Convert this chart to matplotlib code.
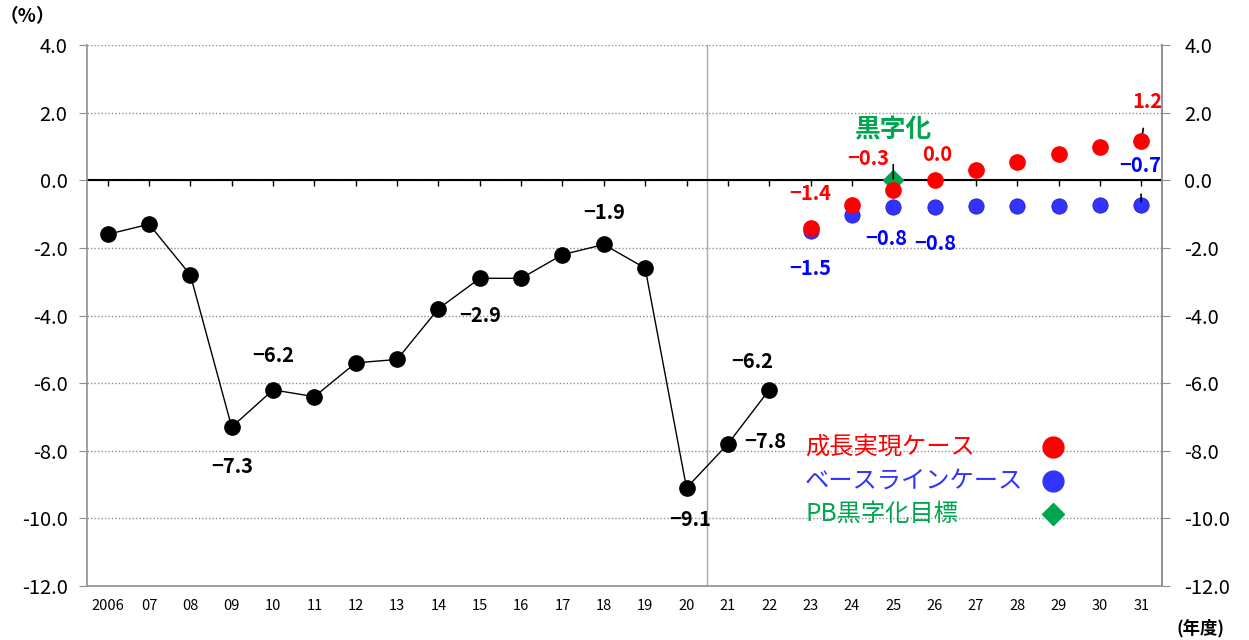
import numpy as np
import matplotlib
matplotlib.use('Agg')
import matplotlib.pyplot as plt

plt.rcParams['font.family'] = ['Noto Sans CJK JP', 'DejaVu Sans']

# 年度ラベル
years = ['2006', '07', '08', '09', '10', '11', '12', '13', '14', '15', '16', '17', '18',
         '19', '20', '21', '22', '23', '24', '25', '26', '27', '28', '29', '30', '31']

# 実績 (2006〜22)
actual = [-1.6, -1.3, -2.8, -7.3, -6.2, -6.4, -5.4, -5.3, -3.8, -2.9, -2.9, -2.2, -1.9,
          -2.6, -9.1, -7.8, -6.2]

# 試算 (23〜31)
growth = [-1.4, -0.74, -0.3, 0.02, 0.3, 0.53, 0.77, 0.98, 1.15]
baseline = [-1.5, -1.03, -0.8, -0.8, -0.77, -0.76, -0.75, -0.73, -0.72]
pb_target_year = '25'
pb_target = 0.0

legend_labels = ['成長実現ケース', 'ベースラインケース', 'PB黒字化目標']

RED = '#FF0000'
BLUE = '#0000FF'
BLUE_M = '#3333FF'
GREEN = '#00A64F'
GRAY = '#909090'


def lab(v):
    return f'{v:.1f}'.replace('-', '−')


fig = plt.figure(figsize=(12.49, 6.40), dpi=100)
ax = fig.add_axes([87 / 1249, 54 / 640, 1075 / 1249, 541 / 640])

x = np.arange(len(years))
xa = x[:len(actual)]
xf = x[len(actual):]

ax.set_xlim(-0.5, len(years) - 0.5)
ax.set_ylim(-12, 4)

# 目盛と補助線
yt = np.arange(-12, 4.1, 2)
ax.set_yticks(yt)
ax.set_yticklabels([f'{v:.1f}' for v in yt])
ax.yaxis.grid(True, linestyle=(0, (1, 1.5)), color=GRAY, linewidth=1)
ax.set_axisbelow(True)
ax.axhline(0, color='black', linewidth=1.5, zorder=2)
ax.plot(x, np.zeros(len(x)), linestyle='none', marker=3, markersize=4,
        color='black', markeredgewidth=1, zorder=2)
# 実績と試算の境目 (20年度と21年度の間)
ax.axvline(years.index('21') - 0.5, color='#A8A8A8', linewidth=1, zorder=1)

ax.spines['top'].set_visible(False)
for s in ['left', 'right', 'bottom']:
    ax.spines[s].set_color(GRAY)
    ax.spines[s].set_linewidth(1.2)

ax.set_xticks(x)
ax.set_xticklabels(years, fontsize=10.5)
ax.tick_params(axis='x', length=0, pad=9)
ax.tick_params(axis='y', labelsize=14.5, length=6, color=GRAY, direction='out', pad=8)

ax2 = ax.twinx()
ax2.set_ylim(-12, 4)
ax2.set_yticks(yt)
ax2.set_yticklabels([f'{v:.1f}' for v in yt])
ax2.tick_params(axis='y', labelsize=14.5, length=6, color=GRAY, direction='out', pad=10)
for s in ['top', 'left', 'bottom']:
    ax2.spines[s].set_visible(False)
ax2.spines['right'].set_color(GRAY)
ax2.spines['right'].set_linewidth(1.2)

# 系列
ax.plot(xa, actual, color='black', linewidth=1, marker='o', markersize=11, zorder=3)
ax.plot(xf, baseline, linestyle='none', marker='o', markersize=11, color=BLUE_M,
        markeredgecolor='#2020C0', markeredgewidth=0.6, zorder=3)
ax.plot(xf, growth, linestyle='none', marker='o', markersize=11, color=RED, zorder=4)
ax.plot([years.index(pb_target_year)], [pb_target], linestyle='none', marker='D',
        markersize=10, color=GREEN, zorder=3)

kw = dict(textcoords='offset pixels', ha='center', va='center', fontsize=14.5,
          fontweight='bold')

# 実績ラベル (年, dx, dy)
act_lab = [('09', 0, -39), ('10', 0, 34), ('15', 0, -37), ('18', 0, 32),
           ('20', 4, -32), ('21', 37, 2), ('22', -17, 28)]
for yr, dx, dy in act_lab:
    i = years.index(yr)
    ax.annotate(lab(actual[i]), (i, actual[i]), xytext=(dx, dy), color='black', **kw)

n0 = len(actual)
red_lab = [('23', 0, 34), ('25', -25, 32), ('26', 3, 25)]
for yr, dx, dy in red_lab:
    i = years.index(yr)
    ax.annotate(lab(growth[i - n0]), (i, growth[i - n0]), xytext=(dx, dy), color=RED, **kw)
blue_lab = [('23', 0, -38), ('25', -7, -31), ('26', 1, -36)]
for yr, dx, dy in blue_lab:
    i = years.index(yr)
    ax.annotate(lab(baseline[i - n0]), (i, baseline[i - n0]), xytext=(dx, dy), color=BLUE, **kw)

# 引き出し線つきラベル
i31 = years.index('31')
ax.annotate(lab(1.2), (i31, growth[-1]), xytext=(6, 40), color=RED,
            arrowprops=dict(arrowstyle='-', color='black', lw=1.2, shrinkA=10, shrinkB=1), **kw)
ax.annotate(lab(-0.7), (i31, baseline[-1]), xytext=(-1, 39), color=BLUE,
            arrowprops=dict(arrowstyle='-', color='black', lw=1.2, shrinkA=11, shrinkB=2), **kw)
ix = years.index(pb_target_year)
ax.annotate('黒字化', (ix, pb_target), xytext=(0, 50), color=GREEN,
            textcoords='offset pixels', ha='center', va='center', fontsize=18.5,
            fontweight='bold',
            arrowprops=dict(arrowstyle='-', color='black', lw=1.2, shrinkA=13, shrinkB=1))

# 凡例 (文字は左, 記号は右)
leg_colors = [RED, BLUE_M, GREEN]
leg_markers = ['o', 'o', 'D']
leg_sizes = [15, 15, 11.5]
for k, (t, c, m, ms) in enumerate(zip(legend_labels, leg_colors, leg_markers, leg_sizes)):
    yy = (586 - 447 - 33.5 * k) / 541
    ax.text(718 / 1075, yy, t, transform=ax.transAxes, color=c, fontsize=17.5,
            ha='left', va='center')
    ax.plot([966 / 1075], [yy], transform=ax.transAxes, marker=m, markersize=ms,
            color=c, linestyle='none', clip_on=False, zorder=5)

fig.text(0 / 1249, 1 - 17 / 640, '（%）', fontsize=13.5, fontweight='bold', va='center')
fig.text(1177 / 1249, 1 - 628 / 640, '(年度)', fontsize=12.5, fontweight='bold', va='center')

fig.savefig('out.png', dpi=100)
